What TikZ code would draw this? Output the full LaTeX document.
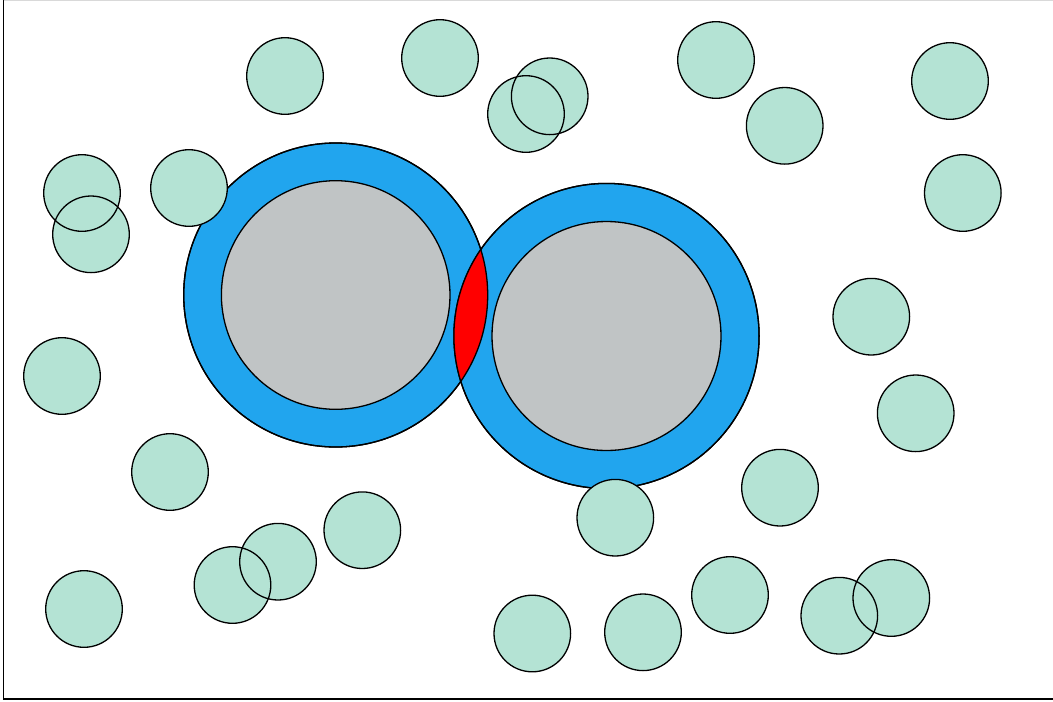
\documentclass[tikz,border=0pt]{standalone}
\begin{document}
\begin{tikzpicture}[x=1pt,y=-1pt,
  outl/.style={draw=black,line width=1.3pt},
  ring/.style={fill=ringblue,draw=black,line width=1.3pt},
  core/.style={fill=coregray,draw=black,line width=1.3pt}]
\definecolor{ringblue}{RGB}{33,165,238}
\definecolor{coregray}{RGB}{192,196,197}
\definecolor{dotgreen}{RGB}{180,227,212}
\useasboundingbox (0,0) rectangle (1053,702);
% frame
\draw[line width=1.2pt] (3.5,0) -- (3.5,699) -- (1053,699);
\draw[black!15,line width=0.8pt] (3.5,0.4) -- (1053,0.4);
% big circles
\coordinate (L) at (335.7,295);
\coordinate (R) at (606.5,336);
\path[ring] (L) circle (152);
\path[core] (L) circle (114.3);
\path[ring] (R) circle (152.6);
\path[core] (R) circle (114.5);
\begin{scope}
  \clip (L) circle (152);
  \fill[red] (R) circle (152.6);
\end{scope}
\draw[outl] (L) circle (152);
\draw[outl] (R) circle (152.6);
% small circles
\def\dots{(285,76),(440,58),(526,114),(549.7,96.3),(716,60),(784.7,125.8),
(950,81),(962.8,193),(82,193),(91,234.3),(189,188),(62,376),(170,472),
(362.3,530.2),(278,561.7),(232.5,585),(84,609),(532.3,633.5),(643,632.3),
(730,595),(839.3,615.7),(891.3,598),(615.3,517.7),(780,487.7),
(871.3,316.7),(915.7,413.3)}
\foreach \p in \dots { \fill[dotgreen] \p circle (38.3); }
\foreach \p in \dots { \draw[outl] \p circle (38.3); }
\end{tikzpicture}
\end{document}
